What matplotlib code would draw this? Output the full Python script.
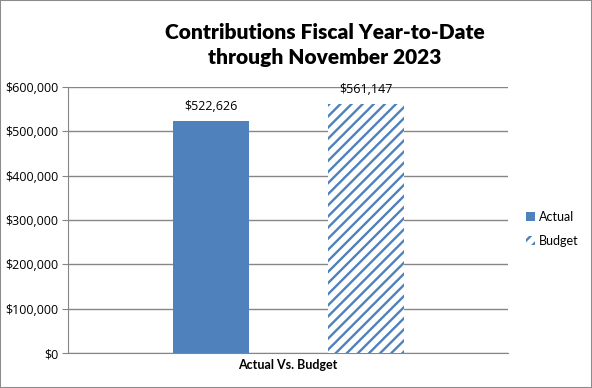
import matplotlib
matplotlib.use("Agg")
import matplotlib.pyplot as plt
from matplotlib.ticker import FuncFormatter
from matplotlib.patches import Rectangle

# data
series = ["Actual", "Budget"]
values = [522626, 561147]
category = "Actual Vs. Budget"
title = "Contributions Fiscal Year-to-Date\nthrough November 2023"
y_ticks = [0, 100000, 200000, 300000, 400000, 500000, 600000]

BLUE = "#4F81BD"
GRID = "#868686"

plt.rcParams["font.family"] = ["Lato", "DejaVu Sans"]
plt.rcParams["hatch.linewidth"] = 1.7

fig = plt.figure(figsize=(5.92, 3.88), dpi=100)
ax = fig.add_axes([0.115, 0.090, 0.743, 0.686])

positions = [-0.35, 0.355]
ax.bar(positions[0], values[0], width=0.345, color=BLUE, label=series[0], zorder=3)
ax.bar(positions[1], values[1], width=0.345, color="white", edgecolor=BLUE,
       linewidth=0, hatch="///", label=series[1], zorder=3)

for x, v in zip(positions, values):
    ax.text(x, v + 18000, f"${v:,.0f}", ha="center", va="bottom", fontsize=9,
            family=["Open Sans", "DejaVu Sans"])

ax.set_xlim(-1, 1)
ax.set_ylim(0, 600000)
ax.set_yticks(y_ticks)
ax.yaxis.set_major_formatter(FuncFormatter(lambda v, p: f"${v:,.0f}"))
ax.set_xticks([0])
ax.set_xticklabels([category], fontweight="bold", fontsize=9)
ax.tick_params(axis="x", length=0, pad=4)
ax.tick_params(axis="y", length=4, color=GRID, labelsize=9, pad=3)
for lab in ax.get_yticklabels():
    lab.set_family(["Open Sans", "DejaVu Sans"])

ax.grid(axis="y", color=GRID, linewidth=1, zorder=0)
for s in ["top", "right"]:
    ax.spines[s].set_visible(False)
ax.spines["left"].set_color(GRID)
ax.spines["bottom"].set_color(GRID)

fig.text(0.549, 0.884, title, ha="center", va="center", fontsize=15,
         fontweight="heavy", linespacing=1.35)

fig.legend(loc="center left", bbox_to_anchor=(0.87, 0.41), frameon=False,
           fontsize=9, handlelength=0.7, handleheight=0.7, handletextpad=0.3,
           labelspacing=1.0)

fig.patches.append(Rectangle((0, 0), 1, 1, transform=fig.transFigure,
                             fill=False, edgecolor="#8C8C8C", linewidth=1.5))

fig.savefig("out.png", dpi=100)
